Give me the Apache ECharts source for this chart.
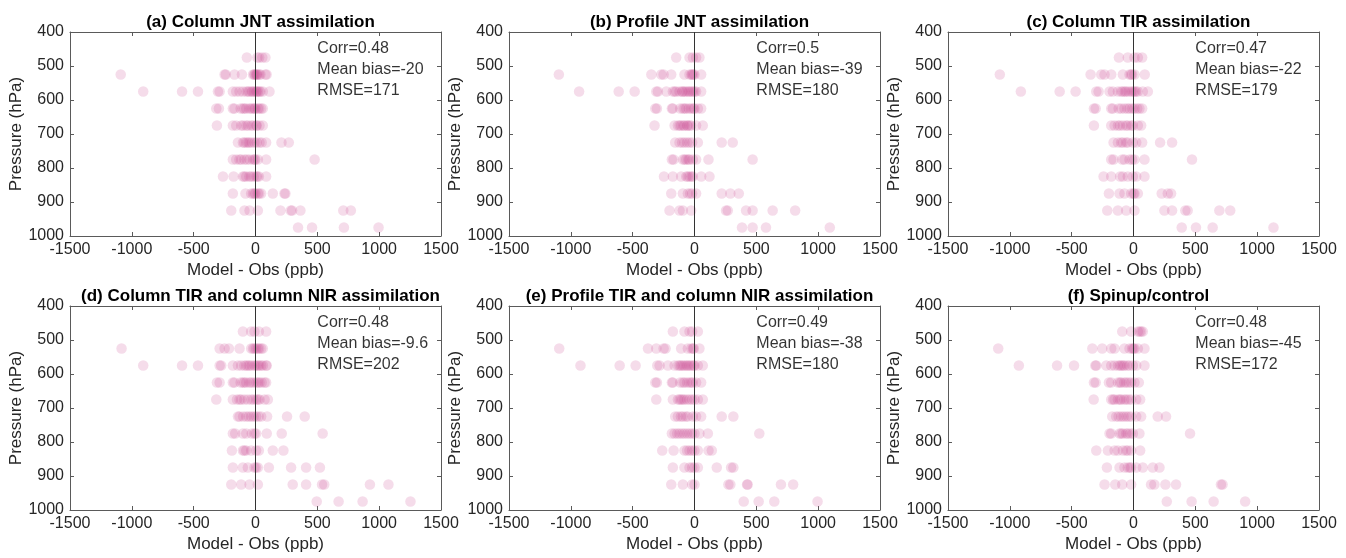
<!DOCTYPE html>
<html><head><meta charset="utf-8">
<script src="https://cdn.jsdelivr.net/npm/echarts@6/dist/echarts.min.js"></script>
<style>html,body{margin:0;padding:0;background:#fff}#c{width:1346px;height:558px}</style>
</head><body><div id="c"></div><script>
// pressure levels (hPa)
const levels = [475, 525, 575, 625, 675, 725, 775, 825, 875, 925, 975];
const titles = [
  '(a) Column JNT assimilation',
  '(b) Profile JNT assimilation',
  '(c) Column TIR assimilation',
  '(d) Column TIR and column NIR assimilation',
  '(e) Profile TIR and column NIR assimilation',
  '(f) Spinup/control'
];
const corrs = ['0.48', '0.5', '0.47', '0.48', '0.49', '0.48'];
const biases = ['-20', '-39', '-22', '-9.6', '-38', '-45'];
const rmses = ['171', '180', '179', '202', '180', '172'];

// Model - Obs (ppb) per level
const diffA = [
  [-70, 15, 30, 55, 80],
  [-1090, -250, -240, -170, -110, -20, -10, -5, 5, 10, 15, 30, 40, 80, 90],
  [-908, -594, -465, -304, -290, -183, -156, -129, -102, -75, -60, -48, -30, -22, -10, 5, 10, 20, 32, 40, 59, 113],
  [-317, -296, -183, -170, -120, -102, -90, -75, -50, -35, -20, -8, 0, 19, 30, 46, 59],
  [-312, -183, -156, -116, -100, -75, -60, -35, -20, 5, 10, 32, 59],
  [-142, -102, -90, -75, -60, -48, -30, -8, 10, 32, 50, 86, 210, 269],
  [-183, -156, -130, -116, -89, -70, -48, -20, -8, 0, 19, 86, 478],
  [-263, -177, -102, -90, -75, -50, -35, -15, 5, 15, 27, 86],
  [-183, -81, -35, -20, -8, 0, 19, 30, 46, 140, 234, 242],
  [-196, -89, -48, 19, 202, 285, 296, 363, 710, 771],
  [344, 457, 715, 995]
];
const diffB = [
  [-148, -40, -13, 13, 40],
  [-1097, -349, -269, -250, -188, -81, -40, -25, -19, -10, 0, 54],
  [-933, -613, -484, -309, -296, -228, -175, -160, -148, -121, -100, -94, -80, -67, -50, -40, -25, -13, 0, 13, 54],
  [-317, -304, -183, -175, -116, -94, -80, -67, -45, -27, -10, 0, 27, 54],
  [-323, -161, -134, -120, -108, -90, -81, -60, -54, -40, -27, 13, 67],
  [-156, -121, -100, -81, -60, -40, -19, 27, 220, 309],
  [-183, -169, -94, -80, -67, -50, -40, -13, 13, 113, 470],
  [-247, -175, -108, -67, -55, -40, -25, -13, 54, 121],
  [-188, -94, -54, -35, -19, 13, 220, 290, 358],
  [-202, -121, -94, -27, 255, 269, 417, 470, 632, 814],
  [384, 470, 578, 1094]
];
const diffC = [
  [-118, -46, 8, 35, 70],
  [-1081, -347, -261, -234, -180, -86, -32, -20, -11, 8, 91],
  [-911, -597, -468, -301, -282, -194, -167, -126, -100, -86, -70, -59, -40, -19, -5, 8, 20, 35, 75, 116],
  [-320, -306, -180, -167, -120, -99, -73, -50, -32, -10, 8, 30, 48, 70],
  [-320, -180, -153, -126, -110, -86, -60, -46, -20, -5, 35, 62],
  [-161, -126, -100, -86, -60, -46, -5, 22, 70, 215, 312],
  [-180, -161, -91, -73, -32, -11, 8, 89, 473],
  [-242, -180, -108, -86, -46, -5, 22, 89],
  [-199, -113, -73, -19, 0, 8, 35, 228, 277, 304],
  [-212, -126, -59, 8, 250, 312, 419, 438, 694, 782],
  [390, 505, 640, 1132]
];
const diffD = [
  [-102, -35, -8, 27, 86],
  [-1083, -290, -250, -215, -129, -35, -20, -8, 5, 19, 30, 46, 59],
  [-908, -594, -465, -290, -277, -183, -142, -116, -90, -75, -60, -48, -30, -8, 5, 19, 30, 46, 60, 86, 91],
  [-312, -290, -183, -170, -120, -102, -90, -75, -50, -35, -15, 5, 20, 32, 50, 73, 86],
  [-317, -183, -150, -129, -116, -90, -62, -35, -15, 5, 20, 32, 73, 100],
  [-142, -129, -100, -75, -55, -35, -15, 5, 25, 46, 94, 255, 398],
  [-183, -164, -102, -75, -30, -8, 5, 91, 212, 543],
  [-191, -102, -90, -75, -35, 5, 27, 140, 226],
  [-183, -102, -62, -8, 5, 19, 108, 288, 409, 521],
  [-196, -116, -48, 19, 301, 409, 538, 556, 925, 1075],
  [495, 672, 866, 1253]
];
const diffE = [
  [-175, -81, -40, -19, 27],
  [-1094, -376, -309, -250, -234, -108, -54, -27, -13, -5, 40],
  [-922, -605, -476, -301, -282, -215, -161, -134, -120, -108, -95, -81, -65, -54, -40, -27, -10, 0, 27, 67],
  [-317, -304, -183, -175, -116, -95, -81, -60, -40, -25, -13, 13, 54],
  [-309, -175, -134, -120, -108, -95, -81, -60, -40, -20, 0, 27, 67],
  [-156, -134, -110, -94, -70, -54, -13, 13, 54, 220, 314],
  [-183, -161, -140, -121, -100, -81, -60, -40, -20, 0, 40, 108, 524],
  [-261, -169, -81, -60, -40, -20, 0, 27, 113, 140],
  [-175, -81, -40, -19, 0, 27, 180, 296, 314],
  [-188, -94, -19, 0, 274, 290, 425, 430, 699, 798],
  [398, 519, 645, 995]
];
const diffF = [
  [-91, -19, 35, 50, 62, 75],
  [-1094, -333, -253, -180, -153, -73, -32, -11, 0, 8, 35, 89],
  [-927, -618, -481, -309, -301, -220, -180, -153, -126, -110, -99, -85, -73, -50, -32, -5, 22, 89],
  [-320, -306, -199, -180, -126, -110, -99, -75, -59, -40, -19, 8, 43],
  [-322, -180, -165, -153, -126, -110, -99, -75, -59, -40, -19, 22, 54],
  [-172, -140, -120, -99, -80, -59, -40, -19, 22, 62, 196, 263],
  [-194, -180, -113, -100, -86, -60, -46, -25, -5, 48, 457],
  [-301, -207, -153, -126, -86, -60, -46, -19, 54],
  [-215, -113, -73, -46, -30, -19, 22, 75, 156, 210],
  [-234, -148, -91, -19, 142, 169, 258, 344, 707, 720],
  [269, 470, 648, 903]
];
const panels = [diffA, diffB, diffC, diffD, diffE, diffF];

const FONT = '"Liberation Sans", Arial, Helvetica, sans-serif';
const lefts = [70, 509, 948];
const tops = [32, 306];
const W = 371, H = 204;
const axisCol = '#5a5a5a';
const txtCol = '#262626';
const plain = v => String(v);

const grid = [], xAxis = [], yAxis = [], series = [], title = [];
panels.forEach((pd, i) => {
  const col = i % 3, row = Math.floor(i / 3);
  grid.push({left: lefts[col], top: tops[row], width: W, height: H, containLabel: false});
  title.push({
    text: titles[i], left: lefts[col] + W / 2, top: tops[row] - 23, textAlign: 'center',
    textStyle: {fontFamily: FONT, fontSize: 17, fontWeight: 'bold', color: '#000'}
  });
  const common = {min: -1500, max: 1500, interval: 500, gridIndex: i,
    axisLine: {show: true, onZero: false, lineStyle: {color: axisCol, width: 1}},
    axisTick: {show: true, inside: true, length: 4, lineStyle: {color: axisCol}},
    splitLine: {show: false}};
  xAxis.push(Object.assign({}, common, {type: 'value', position: 'bottom',
    name: 'Model - Obs (ppb)', nameLocation: 'middle', nameGap: 26,
    nameTextStyle: {fontFamily: FONT, fontSize: 17, color: txtCol},
    axisLabel: {fontFamily: FONT, fontSize: 16, color: txtCol, margin: 6, formatter: plain}}));
  xAxis.push(Object.assign({}, common, {type: 'value', position: 'top', axisLabel: {show: false}}));
  const ycommon = {min: 400, max: 1000, interval: 100, inverse: true, gridIndex: i,
    axisLine: {show: true, onZero: false, lineStyle: {color: axisCol, width: 1}},
    axisTick: {show: true, inside: true, length: 4, lineStyle: {color: axisCol}},
    splitLine: {show: false}};
  yAxis.push(Object.assign({}, ycommon, {type: 'value', position: 'left',
    name: 'Pressure (hPa)', nameLocation: 'middle', nameGap: 39,
    nameTextStyle: {fontFamily: FONT, fontSize: 17, color: txtCol},
    axisLabel: {fontFamily: FONT, fontSize: 16, color: txtCol, margin: 6, formatter: plain}}));
  yAxis.push(Object.assign({}, ycommon, {type: 'value', position: 'right', axisLabel: {show: false}}));

  const data = [];
  pd.forEach((vals, k) => vals.forEach(v => data.push([v, levels[k]])));
  series.push({
    type: 'scatter', xAxisIndex: 2 * i, yAxisIndex: 2 * i, data: data,
    symbol: 'circle', symbolSize: 10.5, silent: true,
    itemStyle: {color: 'rgba(205, 75, 148, 0.24)', borderWidth: 0},
    markLine: {silent: true, symbol: ['none', 'none'], label: {show: false},
      lineStyle: {color: '#333', width: 1, type: 'solid'}, data: [{xAxis: 0}]},
    z: 2
  });
  series.push({
    type: 'scatter', xAxisIndex: 2 * i, yAxisIndex: 2 * i, silent: true,
    symbolSize: 0,
    data: [[500, 450, 'Corr=' + corrs[i]], [500, 511, 'Mean bias=' + biases[i]], [500, 571, 'RMSE=' + rmses[i]]],
    label: {show: true, position: 'right', distance: 0, formatter: p => p.data[2],
      fontFamily: FONT, fontSize: 16, color: '#000'},
    z: 5
  });
});

const chart = echarts.init(document.getElementById('c'), null, {renderer: 'canvas'});
chart.setOption({animation: false, backgroundColor: '#fff', title, grid, xAxis, yAxis, series});
</script></body></html>
